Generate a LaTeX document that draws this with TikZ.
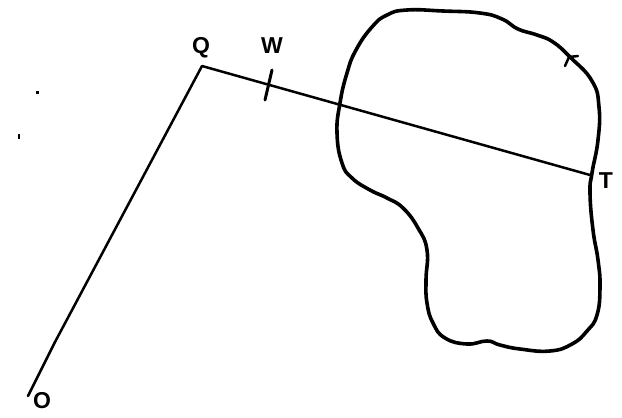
\documentclass[tikz,border=0pt]{standalone}
\usepackage{fontspec}
\setmainfont{Liberation Sans}
\tikzset{
  pen/.style={draw=black,line width=2.5pt,line cap=round,line join=round},
  blob/.style={draw=black,line width=3.6pt,line join=round},
  lab/.style={inner sep=0pt,text=black,font=\fontsize{23}{23}\selectfont\bfseries}
}
\begin{document}
\begin{tikzpicture}[x=1pt,y=-1pt]
\useasboundingbox (0,0) rectangle (622,418);
\node[lab] (lq) at (201,48) {Q};
\node[lab] (lw) at (272,46) {W};
\node[lab] (lt) at (606,181) {T};
\node[lab] (lo) at (42,401) {O};
\coordinate (o) at (28,396);
\coordinate (o2) at (55,342);
\coordinate (q) at (202,66);
\coordinate (t) at (590,175);
\coordinate (w1) at (272,70);
\coordinate (w2) at (265,100);
\draw[pen] (o) -- (o2) -- (q) -- (t);
\draw[pen,line width=3pt] (w1) -- (w2);
\draw[blob] plot[smooth cycle,tension=0.8] coordinates {
 (340,103) (347,73) (356,50) (372,27) (387,15) (407,10) (443,11) (480,13) (502,19)
 (518,29) (537,35) (553,42) (570,57) (592,81) (599,107) (598,140) (592,173) (590,193)
 (593,230) (598,260) (600,287) (597,315) (587,331) (572,344) (550,351) (520,349)
 (500,345) (487,341) (467,344) (445,338) (433,323) (427,303) (426,280) (427,250)
 (418,228) (403,208) (387,198) (370,190) (352,178) (342,163) (337,133)};
\coordinate (k1) at (565,66);
\coordinate (k2) at (569,57);
\coordinate (k3) at (578,56);
\draw[pen] (k1) -- (k2) -- (k3);
\fill (35.5,91) rectangle (38.5,93.5);
\fill (18,134) rectangle (20,139);
\end{tikzpicture}
\end{document}
